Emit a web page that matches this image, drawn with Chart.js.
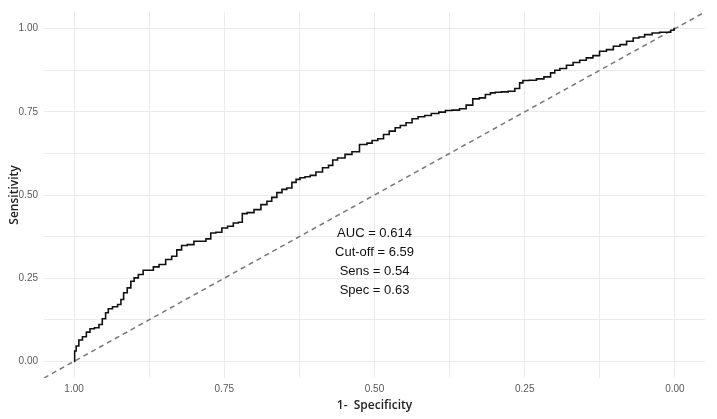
<!DOCTYPE html>
<html lang="en">
<head>
    <meta charset="UTF-8">
    <title>ROC curve</title>
    <style>
        body {
            margin: 0;
            background: #ffffff;
        }
        .wrap {
            position: relative;
            width: 717px;
            height: 419px;
        }
    </style>
</head>
<body>
    <div class="wrap">
        <canvas id="rocChart" width="717" height="419"></canvas>
    </div>

    <script src="https://cdn.jsdelivr.net/npm/chart.js"></script>
    <script>
        // ROC curve (x = specificity, shown reversed)
        const specificity = [
            1.000, 0.998, 0.995, 0.989, 0.983, 0.976, 0.971, 0.961, 0.956, 0.950,
            0.945, 0.941, 0.931, 0.924, 0.920, 0.915, 0.908, 0.903, 0.897, 0.889,
            0.881, 0.872, 0.864, 0.853, 0.842, 0.833, 0.825, 0.817, 0.806, 0.795,
            0.786, 0.775, 0.770, 0.758, 0.750, 0.739, 0.731, 0.722, 0.718, 0.706,
            0.695, 0.683, 0.675, 0.667, 0.658, 0.650, 0.642, 0.633, 0.628, 0.620,
            0.611, 0.603, 0.592, 0.581, 0.572, 0.567, 0.556, 0.542, 0.533, 0.517,
            0.508, 0.500, 0.489, 0.481, 0.470, 0.461, 0.453, 0.442, 0.433, 0.422,
            0.411, 0.400, 0.386, 0.378, 0.364, 0.353, 0.342, 0.331, 0.320, 0.311,
            0.303, 0.295, 0.283, 0.272, 0.261, 0.256, 0.250, 0.236, 0.225, 0.211,
            0.203, 0.197, 0.186, 0.175, 0.164, 0.153, 0.142, 0.131, 0.120, 0.108,
            0.097, 0.086, 0.075, 0.064, 0.056, 0.045, 0.031, 0.020, 0.011, 0.003,
            0.000
        ];
        const sensitivity = [
            0.000, 0.031, 0.046, 0.064, 0.074, 0.088, 0.098, 0.101, 0.111, 0.128,
            0.146, 0.158, 0.164, 0.171, 0.186, 0.206, 0.221, 0.241, 0.251, 0.261,
            0.274, 0.274, 0.284, 0.291, 0.306, 0.316, 0.335, 0.348, 0.351, 0.361,
            0.361, 0.368, 0.386, 0.388, 0.401, 0.406, 0.416, 0.418, 0.444, 0.447,
            0.456, 0.471, 0.481, 0.493, 0.507, 0.517, 0.521, 0.538, 0.547, 0.552,
            0.555, 0.559, 0.569, 0.582, 0.589, 0.605, 0.611, 0.622, 0.630, 0.652,
            0.656, 0.664, 0.669, 0.682, 0.692, 0.702, 0.709, 0.717, 0.729, 0.735,
            0.739, 0.745, 0.749, 0.754, 0.755, 0.759, 0.770, 0.789, 0.792, 0.802,
            0.807, 0.809, 0.810, 0.812, 0.820, 0.837, 0.844, 0.845, 0.849, 0.855,
            0.867, 0.875, 0.880, 0.890, 0.898, 0.905, 0.912, 0.919, 0.932, 0.937,
            0.947, 0.952, 0.962, 0.972, 0.975, 0.982, 0.987, 0.989, 0.989, 0.995,
            1.000
        ];

        // reference diagonal (chance line)
        const chanceX = [1.05, -0.05];
        const chanceY = [-0.05, 1.05];

        // axis ticks: labelled (major) and grid-only (minor)
        const majorTicks = [0, 0.25, 0.5, 0.75, 1];
        const gridTicks = [0, 0.125, 0.25, 0.375, 0.5, 0.625, 0.75, 0.875, 1];

        // text block placed at specificity 0.5
        const statLines = ['AUC = 0.614', 'Cut-off = 6.59', 'Sens = 0.54', 'Spec = 0.63'];
        const statAnchor = { x: 0.5, y: 0.385 };

        const rocPoints = specificity.map((s, i) => ({ x: s, y: sensitivity[i] }));
        const chancePoints = chanceX.map((v, i) => ({ x: v, y: chanceY[i] }));

        const gridColor = '#ebebeb';
        const tickFont = { family: 'Liberation Sans, Arial, sans-serif', size: 10 };
        const titleFont = { family: 'Open Sans, sans-serif', size: 12, weight: '600' };

        const statsPlugin = {
            id: 'statsText',
            afterDatasetsDraw(chart) {
                const c = chart.ctx;
                const px = chart.scales.x.getPixelForValue(statAnchor.x);
                const py = chart.scales.y.getPixelForValue(statAnchor.y);
                c.save();
                c.font = '13px "Liberation Sans", Arial, sans-serif';
                c.fillStyle = '#111';
                c.textAlign = 'center';
                c.textBaseline = 'middle';
                statLines.forEach((t, i) => c.fillText(t, px, py + i * 19));
                c.restore();
            }
        };

        function setTicks(scale) {
            scale.ticks = gridTicks.map(v => ({ value: v }));
        }
        function tickLabel(v) {
            return majorTicks.some(m => Math.abs(m - v) < 1e-6) ? v.toFixed(2) : '';
        }

        new Chart(document.getElementById('rocChart'), {
            type: 'scatter',
            data: {
                datasets: [
                    {
                        label: 'chance',
                        data: chancePoints,
                        showLine: true,
                        borderColor: '#777777',
                        borderWidth: 1.5,
                        borderDash: [5, 4],
                        pointRadius: 0,
                        order: 2
                    },
                    {
                        label: 'ROC',
                        data: rocPoints,
                        showLine: true,
                        stepped: 'middle',
                        borderColor: '#111111',
                        borderWidth: 1.6,
                        pointRadius: 0,
                        order: 1
                    }
                ]
            },
            options: {
                responsive: false,
                animation: false,
                layout: { padding: { top: 12, right: 12, left: 0, bottom: 0 } },
                plugins: {
                    legend: { display: false },
                    tooltip: { enabled: false }
                },
                scales: {
                    x: {
                        type: 'linear',
                        reverse: true,
                        min: -0.05,
                        max: 1.05,
                        afterBuildTicks: setTicks,
                        afterFit(scale) { scale.height = 41; },
                        border: { display: false },
                        grid: { color: gridColor, lineWidth: 1, drawTicks: false },
                        ticks: {
                            autoSkip: false,
                            maxRotation: 0,
                            padding: 5,
                            color: '#5a5a5a',
                            font: tickFont,
                            callback: tickLabel
                        },
                        title: {
                            display: true,
                            text: '1-  Specificity',
                            color: '#222',
                            font: titleFont,
                            padding: { top: 0, bottom: 6 }
                        }
                    },
                    y: {
                        type: 'linear',
                        min: -0.05,
                        max: 1.05,
                        afterBuildTicks: setTicks,
                        afterFit(scale) { scale.width = 44; },
                        border: { display: false },
                        grid: { color: gridColor, lineWidth: 1, drawTicks: false },
                        ticks: {
                            autoSkip: false,
                            padding: 6,
                            color: '#5a5a5a',
                            font: tickFont,
                            callback: tickLabel
                        },
                        title: {
                            display: true,
                            text: 'Sensitivity',
                            color: '#222',
                            font: titleFont,
                            padding: { top: 7, bottom: 0 }
                        }
                    }
                }
            },
            plugins: [statsPlugin]
        });
    </script>
</body>
</html>
